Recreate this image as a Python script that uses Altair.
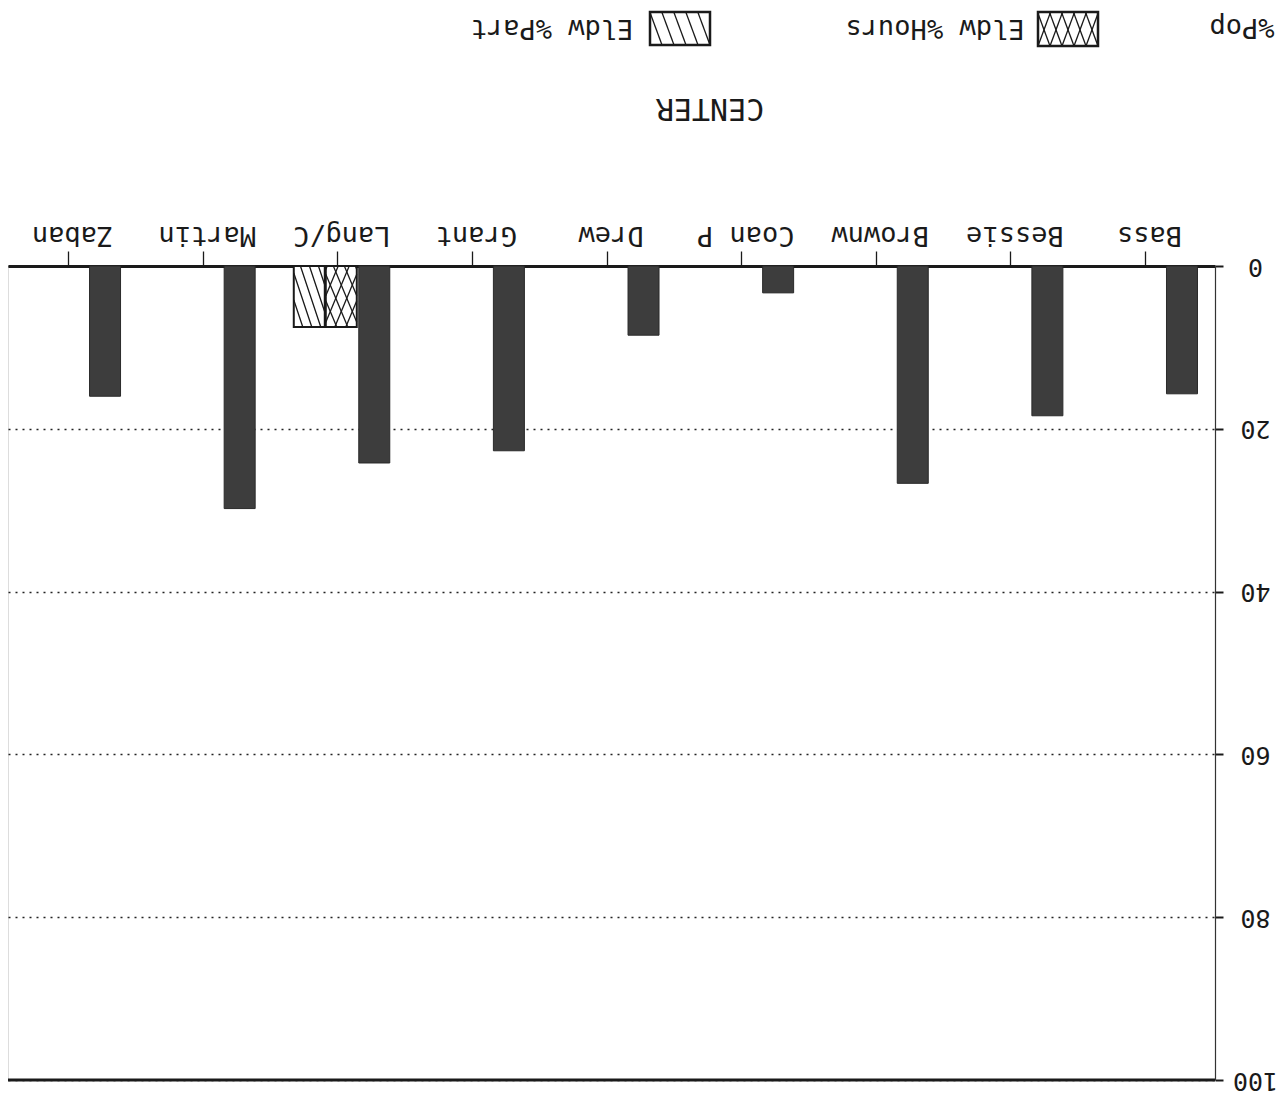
import json
import altair as alt
import pandas as pd

# ---------------- data ----------------
categories = ["Bass", "Bessie", "Brownw", "Coan P", "Drew", "Grant", "Lang/C", "Martin", "Zaban"]
pct_pop = [15.7, 18.4, 26.7, 3.3, 8.5, 22.7, 24.2, 29.8, 16.0]
eldw_hours = [None, None, None, None, None, None, 7.5, None, None]
eldw_part = [None, None, None, None, None, None, 7.5, None, None]
y_ticks = [0, 20, 40, 60, 80, 100]
series_names = ["%Pop", "Eldw %Hours", "Eldw %Part"]
title_text = "CENTER"

# ---------------- layout / style ----------------
W, H = 1207, 814
X_MIN, X_MAX = -0.520, 8.446
PXU = W / (X_MAX - X_MIN)          # pixels per category unit
OFF_PX = {"%Pop": 37, "Eldw %Hours": 4, "Eldw %Part": -28}
BAR_W = 31
FONT = "DejaVu Sans Mono"
INK = "#1a1a1a"
POP_FILL = "#3d3d3d"


def px_x(v):
    return (X_MAX - v) * PXU


def px_y(v):
    return v / 100.0 * H


def dx(p):
    return X_MAX - p / PXU


def dy(p):
    return p / H * 100.0


def hatch(x0, x1, y0, y1, slope, spacing, mirror=False, phase=0.0):
    segs = []
    h = y1 - y0
    run = h / slope
    c = x0 - run + phase
    while c < x1:
        xa, ya, xb, yb = c, y0, c + run, y1
        if xa < x0:
            ya = y0 + (x0 - xa) * slope
            xa = x0
        if xb > x1:
            yb = y1 - (xb - x1) * slope
            xb = x1
        if xb > xa + 0.5:
            if mirror:
                xa, xb = x0 + x1 - xa, x0 + x1 - xb
            segs.append((xa, ya, xb, yb))
        c += spacing
    return segs


series_vals = {"%Pop": pct_pop, "Eldw %Hours": eldw_hours, "Eldw %Part": eldw_part}
rows = []
hatch_rows = []
for i, cat in enumerate(categories):
    for s in series_names:
        v = series_vals[s][i]
        if v is None:
            continue
        center = i - OFF_PX[s] / PXU
        lo = center - BAR_W / 2 / PXU
        hi = center + BAR_W / 2 / PXU
        rows.append({"cat": cat, "series": s, "x": lo, "x2": hi, "y": 0.0, "y2": v})
        if s != "%Pop":
            pl, pr = sorted([px_x(lo), px_x(hi)])
            pt, pb = px_y(0), px_y(v)
            if s == "Eldw %Part":
                segs = hatch(pl, pr, pt, pb, 3.0, 9)
            else:
                segs = hatch(pl, pr, pt, pb, 2.4, 11) + hatch(pl, pr, pt, pb, 2.4, 11, mirror=True)
            for (a, b, c, d) in segs:
                hatch_rows.append({"xa": dx(a), "ya": dy(b), "xb": dx(c), "yb": dy(d)})

bars = pd.DataFrame(rows)

# legend swatches (plot-relative pixel boxes)
SW_PART = (642, 702, -254, -221)
SW_HOURS = (1030, 1090, -254, -220)
for (x0, x1, y0, y1), kind in [(SW_PART, "part"), (SW_HOURS, "hours")]:
    if kind == "part":
        segs = hatch(x0, x1, y0, y1, 2.7, 12)
    else:
        segs = hatch(x0, x1, y0, y1, 2.7, 12) + hatch(x0, x1, y0, y1, 2.7, 12, mirror=True)
    for (a, b, c, d) in segs:
        hatch_rows.append({"xa": dx(a), "ya": dy(b), "xb": dx(c), "yb": dy(d)})
hatch_df = pd.DataFrame(hatch_rows)

X_SCALE = alt.Scale(domain=[X_MIN, X_MAX], reverse=True, nice=False, zero=False)
Y_SCALE = alt.Scale(domain=[0, 100], reverse=True, nice=False, zero=False)
X_AXIS = alt.Axis(
    orient="top", values=list(range(len(categories))),
    labelExpr=json.dumps(categories) + "[datum.value]",
    labelAngle=180, labelAlign="center", labelBaseline="middle",
    labelPadding=17, labelOffset=4, tickSize=15, tickWidth=1.3, tickColor=INK,
    domainWidth=3, domainColor=INK, grid=False, title=None,
    labelFont=FONT, labelFontSize=27, labelColor=INK,
    labelFlush=False, labelOverlap=False,
)
Y_AXIS = alt.Axis(
    orient="right", values=y_ticks,
    labelAngle=180, labelAlign="center", labelBaseline="middle",
    labelPadding=32, tickSize=8, tickWidth=2, tickColor=INK,
    domainWidth=1.2, domainColor="#333", grid=True, gridDash=[2, 5],
    gridColor="#222", gridWidth=1.6, title=None,
    labelFont=FONT, labelFontSize=25, labelColor=INK,
    labelFlush=False, labelOverlap=False,
)

pop_layer = alt.Chart(bars).transform_filter(alt.datum.series == "%Pop").mark_rect(
    fill=POP_FILL, stroke="#2a2a2a", strokeWidth=1
).encode(
    x=alt.X("x:Q", scale=X_SCALE, axis=X_AXIS),
    x2="x2:Q",
    y=alt.Y("y:Q", scale=Y_SCALE, axis=Y_AXIS),
    y2="y2:Q",
)

hat_layer = alt.Chart(bars).transform_filter(alt.datum.series != "%Pop").mark_rect(
    fill="white", stroke=INK, strokeWidth=2
).encode(
    x=alt.X("x:Q", scale=X_SCALE, axis=X_AXIS),
    x2="x2:Q",
    y=alt.Y("y:Q", scale=Y_SCALE, axis=Y_AXIS),
    y2="y2:Q",
)

hatch_layer = alt.Chart(hatch_df).mark_rule(color=INK, strokeWidth=1.3).encode(
    x=alt.X("xa:Q", scale=X_SCALE, axis=X_AXIS),
    x2="xb:Q",
    y=alt.Y("ya:Q", scale=Y_SCALE, axis=Y_AXIS),
    y2="yb:Q",
)

bottom_rule = alt.Chart(pd.DataFrame({"v": [100]})).mark_rule(color=INK, strokeWidth=3).encode(
    y=alt.Y("v:Q", scale=Y_SCALE, axis=Y_AXIS)
)

layers = [pop_layer, hat_layer, hatch_layer, bottom_rule]

# swatch boxes
for (x0, x1, y0, y1) in [SW_PART, SW_HOURS]:
    layers.append(
        alt.Chart(pd.DataFrame({"k": [0]})).mark_rect(fill="none", stroke=INK, strokeWidth=2.5).encode(
            x=alt.value(x0), x2=alt.value(x1), y=alt.value(y0), y2=alt.value(y1)
        )
    )

# legend texts and title (rotated 180 like the reference)
texts = [
    (series_names[0], 1234, -239, 27),
    (series_names[1], 927, -238, 27),
    (series_names[2], 544, -238, 27),
    (title_text, 702, -158, 30),
]
for t, x, y, fs in texts:
    layers.append(
        alt.Chart(pd.DataFrame({"t": [t]})).mark_text(
            angle=180, align="center", baseline="middle", font=FONT, fontSize=fs, color=INK
        ).encode(x=alt.value(x), y=alt.value(y), text="t:N")
    )

chart = alt.layer(*layers).properties(
    width=W, height=H,
    autosize=alt.AutoSizeParams(type="none"),
    padding={"left": 0, "top": 258, "right": 65, "bottom": 16},
).configure_view(stroke="#333", strokeWidth=1).configure(background="white")

chart.save("out.html", embed_options={"renderer": "svg", "actions": False})
